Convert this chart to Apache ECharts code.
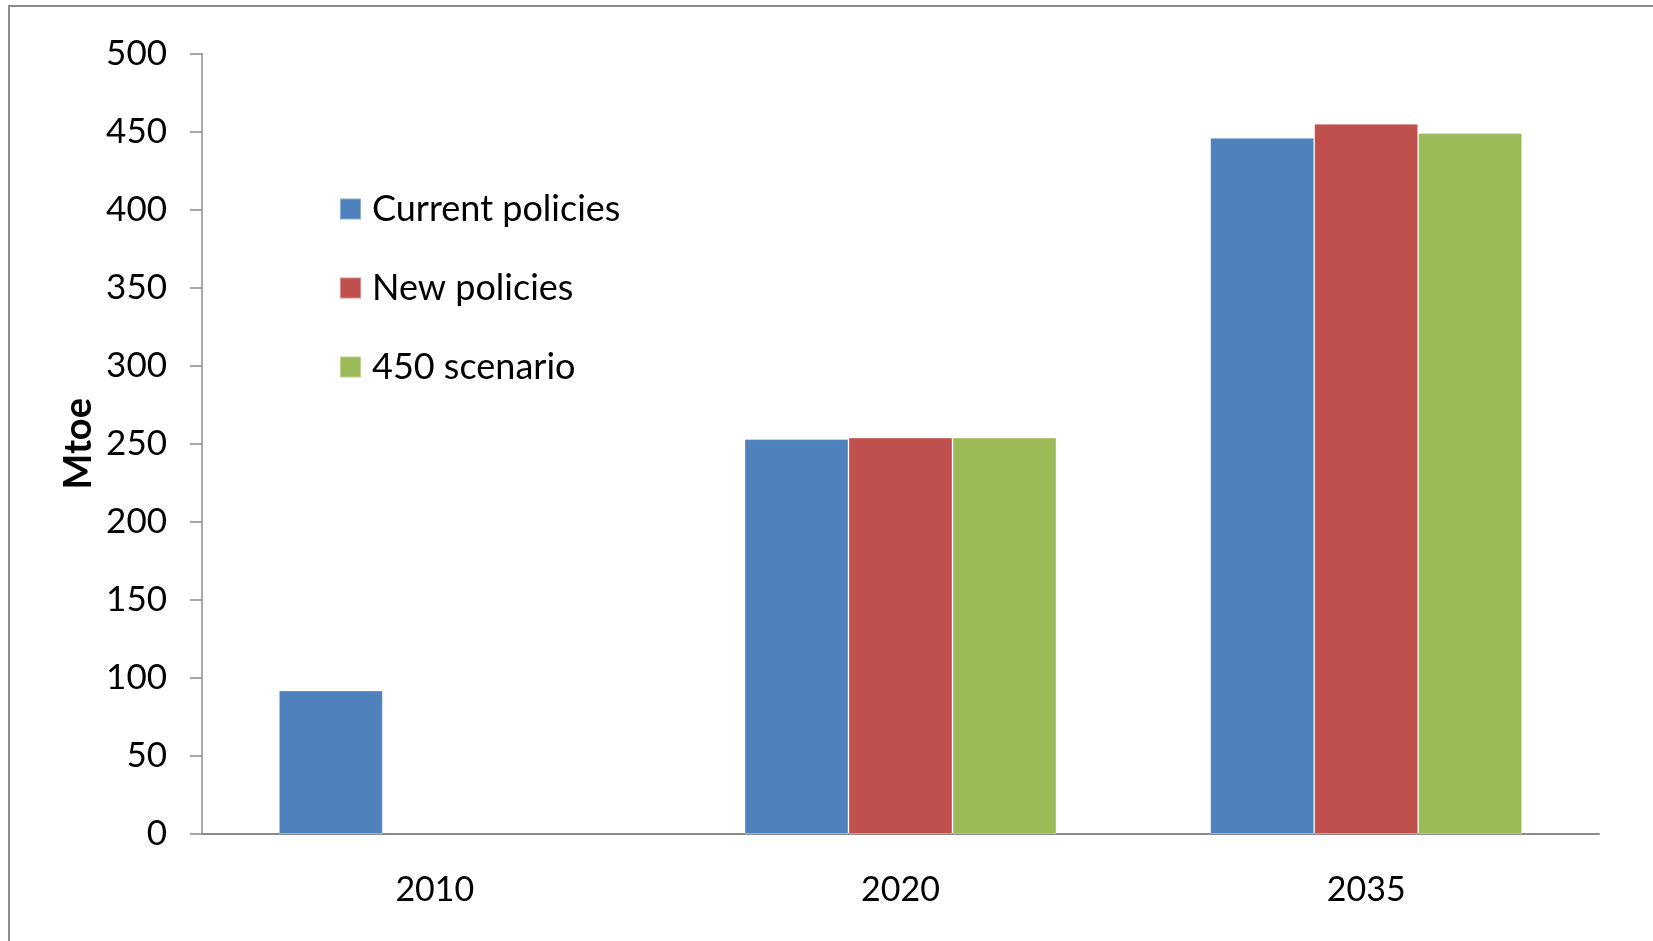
<!DOCTYPE html>
<html><head><meta charset="utf-8">
<script src="https://cdn.jsdelivr.net/npm/echarts@6/dist/echarts.min.js"></script>
<style>html,body{margin:0;padding:0;background:#fff}#c{width:1653px;height:941px}</style>
</head><body><div id="c"></div>
<script>
var categories = ['2010', '2020', '2035'];
var currentPolicies = [92, 253, 446];
var newPolicies = [null, 254, 455];
var scenario450 = [null, 254, 449];
var seriesNames = ['Current policies', 'New policies', '450 scenario'];
var colors = ['#4F81BD', '#C0504D', '#9BBB59'];
var FONT = 'Lato';

var chart = echarts.init(document.getElementById('c'));
function bar(name, data, color) {
  return { name: name, type: 'bar', data: data, barGap: '0%', barCategoryGap: '33%',
    itemStyle: { color: color, borderColor: 'rgba(255,255,255,0.35)', borderWidth: 1 } };
}
chart.setOption({
  animation: false,
  backgroundColor: '#fff',
  textStyle: { fontFamily: FONT },
  graphic: [{ type: 'rect', shape: { x: 9, y: 6, width: 1700, height: 1000 },
    style: { fill: 'none', stroke: '#8c8c8c', lineWidth: 2 }, silent: true, z: -1 }],
  grid: { left: 202, right: 54, top: 53.5, bottom: 107 },
  legend: {
    orient: 'vertical', left: 334, top: 186, itemWidth: 21, itemHeight: 21, itemGap: 43,
    icon: 'rect',
    textStyle: { fontFamily: FONT, fontSize: 36, lineHeight: 36, color: '#000', padding: [0, 0, 0, 6] },
    data: seriesNames
  },
  xAxis: {
    type: 'category', data: categories, boundaryGap: true,
    axisLine: { lineStyle: { color: '#8c8c8c', width: 2 } },
    axisTick: { length: 13, lineStyle: { color: '#8c8c8c', width: 1.5 } },
    axisLabel: { fontFamily: FONT, fontSize: 34, color: '#000', margin: 39 }
  },
  yAxis: {
    type: 'value', min: 0, max: 500, interval: 50,
    name: 'Mtoe', nameLocation: 'middle', nameGap: 104, nameRotate: 90, nameMoveOverlap: false,
    nameTextStyle: { fontFamily: FONT, fontSize: 38, fontWeight: 'bold', color: '#000' },
    axisLine: { show: true, lineStyle: { color: '#8c8c8c', width: 1.5 } },
    axisTick: { show: true, length: 12, lineStyle: { color: '#8c8c8c', width: 1.5 } },
    axisLabel: { fontFamily: FONT, fontSize: 35, color: '#000', margin: 35 },
    splitLine: { show: false }
  },
  series: [
    bar(seriesNames[0], currentPolicies, colors[0]),
    bar(seriesNames[1], newPolicies, colors[1]),
    bar(seriesNames[2], scenario450, colors[2])
  ]
});
</script></body></html>
